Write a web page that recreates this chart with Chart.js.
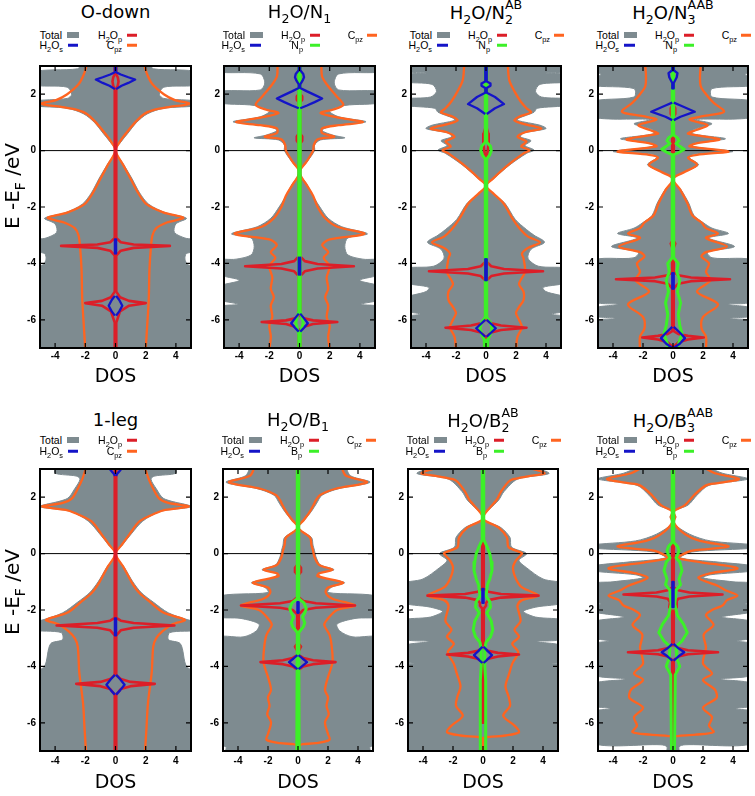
<!DOCTYPE html>
<html>
<head>
<meta charset="utf-8">
<script src="https://cdn.jsdelivr.net/npm/chart.js"></script>
<style>
  body { margin: 0; width: 755px; height: 796px; position: relative; overflow: hidden; background: #fff; }
  canvas { position: absolute; }
  .ttl { position: absolute; transform: translate(-50%, -50%); font: 18px "DejaVu Sans", sans-serif; white-space: nowrap; line-height: 22px; color: #000; }
  .lt { position: absolute; transform: translate(-100%, -50%); font: 10.5px "Liberation Sans", sans-serif; white-space: nowrap; line-height: 12px; color: #000; }
  .sw { position: absolute; transform: translateY(-50%); }
  .ylab { position: absolute; transform: translate(-50%, -50%) rotate(-90deg); font: 20px "DejaVu Sans", sans-serif; white-space: nowrap; line-height: 24px; }
  sub { font-size: 0.7em; vertical-align: -0.4em; line-height: 0; }
  .st { display: inline-block; font-size: 0.7em; line-height: 1.19; vertical-align: -0.4em; text-align: left; }
  .st span { display: block; }
</style>
</head>
<body>
<script>
// axes
const xTicks = [-4, -2, 0, 2, 4];
const yTicks = [-6, -4, -2, 0, 2];
const xMin = -5, xMax = 5, yMin = -7, yMax = 3;

// every series: [energy, half width of the DOS], mirrored round DOS = 0
// ---------- O-down ----------
const oDownTotal = [[3.05,2.3],[2.9,2.5],[2.78,5.5],[2.35,5.5],[2.25,3.2],[2.0,2.9],[1.85,3.2],[1.75,5.5],[1.6,5.5],[1.5,3.2],[1.3,2.1],[1.0,1.4],[0.6,0.8],[0.3,0.35],[0,0],[-0.5,0.55],[-1.0,1.1],[-1.5,1.6],[-1.9,2.2],[-2.2,3.3],[-2.4,4.7],[-2.6,4.0],[-2.9,3.9],[-3.1,4.6],[-3.2,5.5],[-3.55,5.5],[-3.65,4.7],[-3.85,4.6],[-4.05,4.8],[-4.15,5.5],[-7.05,5.5]];
const oDownCpz = [[3.05,1.9],[2.7,2.1],[2.35,2.45],[2.0,3.2],[1.8,3.9],[1.66,4.9],[1.55,3.6],[1.45,2.6],[1.3,1.9],[1.0,1.3],[0.6,0.68],[0.3,0.27],[0,0],[-0.5,0.5],[-1.0,1.0],[-1.5,1.5],[-1.9,2.05],[-2.2,3.2],[-2.38,4.5],[-2.55,3.4],[-2.75,2.7],[-3.0,2.45],[-3.4,2.35],[-4.2,2.25],[-5.3,2.2],[-6.2,2.1],[-7.05,2.0]];
const oDownH2Op = [[3.05,0.05],[2.7,0.05],[2.6,0.15],[2.45,0.2],[2.3,0.15],[2.2,0.05],[-3.1,0.05],[-3.25,0.35],[-3.33,1.2],[-3.38,3.6],[-3.45,1.2],[-3.55,0.35],[-3.72,0.05],[-5.0,0.05],[-5.2,0.3],[-5.33,0.9],[-5.41,2.0],[-5.5,0.9],[-5.7,0.3],[-6.1,0.05],[-7.05,0.05]];
const oDownH2Os = [[3.05,0.04],[2.78,0.04],[2.7,0.35],[2.6,0.85],[2.52,1.3],[2.4,0.85],[2.3,0.4],[2.18,0.04],[2.1,null],[-3.15,0.04],[-3.65,0.04],[-3.7,null],[-5.15,0.04],[-5.3,0.25],[-5.5,0.45],[-5.7,0.25],[-5.85,0.04]];

// ---------- H2O/N1 ----------
const n1Total = [[3.05,5.5],[2.8,5.5],[2.72,2.6],[2.4,2.3],[2.15,2.6],[2.08,5.5],[1.72,5.5],[1.6,3.0],[1.4,2.0],[1.2,2.6],[1.02,4.4],[0.88,2.2],[0.72,1.5],[0.55,2.2],[0.45,3.0],[0.38,1.4],[0.2,1.0],[0,1.0],[-0.4,0.5],[-0.77,0],[-1.2,0.5],[-1.7,1.0],[-2.0,1.35],[-2.4,1.9],[-2.7,2.8],[-2.95,4.5],[-3.1,3.2],[-3.4,3.0],[-3.7,3.2],[-3.85,4.2],[-3.9,5.5],[-4.35,5.5],[-4.6,4.0],[-4.85,5.5],[-5.25,5.5],[-5.45,4.1],[-5.6,5.5],[-7.05,5.5]];
const n1Cpz = [[3.05,1.45],[2.62,1.5],[2.28,1.9],[1.93,2.45],[1.62,2.9],[1.45,2.2],[1.33,1.4],[1.15,2.8],[1.01,4.2],[0.9,2.6],[0.79,1.5],[0.62,1.5],[0.49,2.3],[0.4,1.2],[0.2,0.95],[0,0.9],[-0.4,0.45],[-0.77,0],[-1.2,0.45],[-1.6,0.9],[-2.0,1.2],[-2.4,1.7],[-2.7,2.5],[-2.95,4.3],[-3.15,2.0],[-3.35,1.5],[-3.6,1.9],[-3.8,1.6],[-4.1,2.0],[-4.5,1.8],[-4.9,1.9],[-5.2,1.7],[-5.5,1.9],[-5.9,1.8],[-6.2,2.0],[-6.6,1.9],[-7.05,2.0]];
const n1H2Op = [[3.05,0.05],[2.0,0.05],[1.92,0.18],[1.8,0.18],[1.72,0.05],[0.6,0.05],[0.5,0.18],[0.35,0.18],[0.25,0.05],[-3.75,0.05],[-3.92,0.35],[-4.02,1.2],[-4.1,3.6],[-4.18,1.2],[-4.28,0.35],[-4.45,0.05],[-5.85,0.05],[-5.95,0.3],[-6.02,0.9],[-6.08,2.5],[-6.15,0.9],[-6.25,0.3],[-6.35,0.05],[-7.05,0.05]];
const n1H2Os = [[3.05,0.05],[2.85,0.05],[2.72,0.25],[2.6,0.3],[2.48,0.2],[2.35,0.05],[2.22,0.05],[2.1,0.5],[1.95,1.1],[1.85,1.5],[1.72,1.0],[1.6,0.5],[1.5,0.05],[1.45,null],[-3.8,0.05],[-4.4,0.05],[-4.45,null],[-5.78,0.05],[-5.95,0.3],[-6.12,0.55],[-6.28,0.3],[-6.42,0.05]];
const n1Np = [[3.05,0.05],[-5.7,0.05],[-5.9,0.15],[-6.1,0.25],[-6.3,0.15],[-6.5,0.05],[-7.05,0.05]];

// ---------- H2O/N2 AB ----------
const n2Total = [[3.05,5.5],[2.82,5.5],[2.75,4.0],[2.68,5.5],[2.45,5.5],[2.35,3.6],[2.1,3.3],[1.9,3.7],[1.82,5.5],[1.62,5.5],[1.5,3.4],[1.36,3.2],[1.15,2.2],[1.07,2.1],[0.9,3.6],[0.78,4.0],[0.62,2.5],[0.49,2.3],[0.35,3.0],[0.18,2.6],[0.02,3.2],[-0.1,2.7],[-0.5,1.6],[-1.0,0.5],[-1.25,0],[-1.5,0.4],[-1.86,1.25],[-2.44,1.95],[-2.8,2.7],[-3.0,3.2],[-3.25,3.9],[-3.5,3.0],[-3.82,2.8],[-4.1,3.5],[-4.2,5.5],[-4.65,5.5],[-4.85,3.8],[-5.0,4.0],[-5.25,5.5],[-5.65,5.5],[-5.8,4.4],[-5.95,5.5],[-7.05,5.5]];
const n2Cpz = [[3.05,1.45],[2.5,1.55],[2.1,1.9],[1.75,2.3],[1.5,2.7],[1.36,3.0],[1.2,2.2],[1.07,1.9],[0.92,2.7],[0.78,3.7],[0.65,2.6],[0.49,2.1],[0.32,2.7],[0.15,2.35],[0.01,2.9],[-0.1,2.5],[-0.5,1.5],[-1.0,0.45],[-1.25,0],[-1.5,0.45],[-1.86,1.15],[-2.44,1.8],[-2.8,2.3],[-3.05,2.8],[-3.25,3.6],[-3.45,2.8],[-3.65,2.4],[-3.82,2.5],[-4.3,2.6],[-4.73,2.2],[-5.0,2.5],[-5.3,2.5],[-5.55,2.2],[-5.76,2.0],[-6.0,2.2],[-6.27,2.4],[-6.6,2.1],[-7.05,2.0]];
const n2H2Op = [[3.05,0.05],[0.8,0.05],[0.6,0.15],[0.3,0.18],[0.0,0.12],[-0.2,0.05],[-3.95,0.05],[-4.1,0.35],[-4.2,1.2],[-4.28,3.8],[-4.36,1.2],[-4.45,0.35],[-4.6,0.05],[-6.0,0.05],[-6.12,0.35],[-6.2,1.0],[-6.28,2.7],[-6.36,1.0],[-6.45,0.35],[-6.6,0.05],[-7.05,0.05]];
const n2H2Os = [[3.05,0.05],[2.45,0.05],[2.38,0.3],[2.3,0.3],[2.22,0.05],[2.05,0.05],[1.9,0.6],[1.65,1.2],[1.5,0.6],[1.3,0.05],[1.25,null],[-3.85,0.05],[-4.6,0.05],[-4.65,null],[-6.0,0.05],[-6.15,0.35],[-6.3,0.65],[-6.45,0.35],[-6.6,0.05]];
const n2Np = [[3.05,0.05],[0.3,0.05],[0.15,0.3],[0.0,0.35],[-0.15,0.25],[-0.3,0.05],[-5.9,0.05],[-6.1,0.3],[-6.3,0.4],[-6.5,0.3],[-6.7,0.12],[-7.05,0.1]];

// ---------- H2O/N3 AAB ----------
const n3Total = [[3.05,5.5],[2.82,5.5],[2.7,4.8],[2.55,5.5],[2.32,5.5],[2.2,2.6],[1.9,2.6],[1.72,5.5],[1.2,5.5],[1.1,1.5],[0.95,2.6],[0.75,1.4],[0.6,1.3],[0.42,3.5],[0.28,1.5],[0.15,1.3],[-0.03,4.0],[-0.12,1.4],[-0.25,1.1],[-0.5,1.7],[-0.75,0.8],[-1.0,0],[-1.4,0.55],[-1.86,1.05],[-2.3,1.4],[-2.55,2.0],[-2.75,2.6],[-2.94,3.7],[-3.1,2.4],[-3.4,4.1],[-3.6,2.3],[-3.8,2.6],[-3.95,5.5],[-5.3,5.5],[-5.45,3.7],[-5.6,5.5],[-5.85,5.5],[-5.95,3.8],[-6.1,5.5],[-7.05,5.5]];
const n3Cpz = [[3.05,1.85],[2.6,1.8],[2.28,1.85],[2.0,2.2],[1.7,2.7],[1.38,3.4],[1.22,2.0],[1.1,1.1],[0.9,2.3],[0.72,1.5],[0.6,1.0],[0.4,3.1],[0.25,1.5],[0.15,1.1],[-0.03,3.7],[-0.15,1.6],[-0.25,1.0],[-0.5,1.6],[-0.75,0.8],[-1.0,0],[-1.4,0.5],[-1.86,0.95],[-2.3,1.3],[-2.55,1.9],[-2.75,2.2],[-2.94,3.0],[-3.1,2.2],[-3.4,3.6],[-3.6,2.2],[-3.75,1.9],[-4.0,2.4],[-4.3,2.2],[-4.6,2.5],[-5.0,1.6],[-5.45,3.0],[-5.9,2.0],[-6.3,1.9],[-6.6,2.2],[-7.05,2.2]];
const n3H2Op = [[3.05,0.05],[1.6,0.05],[1.5,0.15],[1.3,0.15],[1.2,0.05],[-3.2,0.05],[-3.3,0.15],[-3.45,0.05],[-4.3,0.05],[-4.42,0.35],[-4.5,1.2],[-4.56,3.8],[-4.63,1.2],[-4.72,0.35],[-4.88,0.05],[-6.4,0.05],[-6.5,0.35],[-6.57,1.0],[-6.63,2.05],[-6.7,1.0],[-6.8,0.35],[-6.95,0.05],[-7.05,0.05]];
const n3H2Os = [[3.05,0.05],[2.85,0.05],[2.75,0.3],[2.6,0.25],[2.4,0.05],[2.2,0.05],[2.1,null],[1.7,0.05],[1.6,0.5],[1.38,1.45],[1.2,0.5],[1.08,0.05],[1.0,null],[-4.35,0.05],[-4.9,0.05],[-4.95,null],[-6.25,0.05],[-6.45,0.45],[-6.65,0.8],[-6.85,0.45],[-7.0,0.05]];
const n3Np = [[3.05,0.05],[0.55,0.05],[0.45,0.3],[0.35,0.4],[0.25,0.2],[0.15,0.45],[0.05,0.75],[-0.05,0.45],[-0.15,0.05],[-3.8,0.05],[-4.0,0.35],[-4.3,0.25],[-4.6,0.45],[-5.0,0.3],[-5.4,0.5],[-5.8,0.35],[-6.2,0.45],[-6.5,0.6],[-6.8,0.4],[-7.05,0.3]];

// ---------- 1-leg ----------
const legTotal = [[3.05,4.0],[2.85,4.0],[2.75,2.6],[2.64,2.35],[2.3,2.7],[1.95,3.2],[1.67,5.0],[1.5,3.0],[1.15,1.8],[0.7,1.05],[0.3,0.45],[0,0],[-0.5,0.6],[-1.0,1.15],[-1.38,1.7],[-1.72,2.5],[-2.1,3.5],[-2.35,4.8],[-2.45,5.5],[-2.7,5.5],[-2.8,3.6],[-3.05,3.5],[-3.2,4.3],[-4.0,4.7],[-4.3,5.5],[-7.05,5.5]];
const legCpz = [[3.05,1.95],[2.64,2.2],[2.3,2.5],[1.95,2.9],[1.8,3.5],[1.67,4.85],[1.55,3.3],[1.44,2.7],[1.15,1.6],[0.69,0.93],[0.3,0.4],[0,0],[-0.5,0.55],[-1.0,1.05],[-1.38,1.55],[-1.72,2.3],[-2.1,3.2],[-2.35,4.6],[-2.5,3.8],[-2.76,3.1],[-3.0,2.7],[-3.3,2.5],[-4.2,2.4],[-5.3,2.15],[-6.2,2.05],[-7.05,1.95]];
const legH2Op = [[3.05,0.05],[-2.28,0.05],[-2.38,0.35],[-2.46,1.2],[-2.55,3.9],[-2.63,1.2],[-2.72,0.35],[-2.9,0.05],[-4.3,0.05],[-4.45,0.35],[-4.55,1.0],[-4.62,2.6],[-4.7,1.0],[-4.8,0.35],[-5.0,0.05],[-7.05,0.05]];
const legH2Os = [[3.05,0.45],[2.95,0.3],[2.82,0.1],[2.75,0.04],[2.7,null],[-2.3,0.04],[-2.9,0.04],[-2.95,null],[-4.3,0.04],[-4.45,0.3],[-4.65,0.6],[-4.85,0.3],[-5.0,0.04]];

// ---------- H2O/B1 ----------
const b1Total = [[3.05,3.2],[2.76,3.5],[2.53,4.8],[2.3,2.7],[2.07,1.6],[1.79,1.25],[1.5,0.9],[1.2,0.45],[0.92,0],[0.57,0.9],[0.3,1.0],[0.11,1.1],[-0.12,1.2],[-0.4,1.5],[-0.57,2.4],[-0.7,1.4],[-0.85,1.6],[-1.03,3.1],[-1.2,2.2],[-1.38,2.0],[-1.55,5.5],[-2.2,5.5],[-2.3,3.8],[-2.5,2.6],[-2.75,2.8],[-2.95,3.6],[-3.05,5.5],[-6.75,5.5],[-6.85,4.8],[-7.05,4.8]];
const b1Cpz = [[3.05,2.9],[2.76,3.2],[2.53,4.6],[2.3,2.5],[2.07,1.45],[1.85,1.15],[1.79,1.1],[1.5,0.8],[1.2,0.4],[0.92,0],[0.57,0.8],[0.3,0.9],[0.11,1.0],[-0.12,1.1],[-0.4,1.4],[-0.57,2.3],[-0.7,1.4],[-0.8,1.3],[-1.03,3.0],[-1.2,2.0],[-1.38,1.85],[-1.6,2.3],[-1.84,3.8],[-2.0,2.6],[-2.3,2.0],[-2.53,1.75],[-2.88,2.1],[-3.3,2.25],[-3.85,2.3],[-4.38,2.0],[-4.84,1.8],[-5.1,2.0],[-5.4,1.9],[-5.7,2.05],[-5.98,1.8],[-6.4,2.0],[-6.6,2.1],[-6.72,1.2],[-6.76,0.3],[-6.8,0.05],[-7.05,0.05]];
const b1H2Op = [[3.05,0.05],[-0.4,0.05],[-0.5,0.2],[-0.65,0.2],[-0.75,0.05],[-1.55,0.05],[-1.68,0.35],[-1.76,1.2],[-1.84,3.8],[-1.92,1.2],[-2.0,0.35],[-2.15,0.05],[-3.2,0.05],[-3.3,0.2],[-3.45,0.05],[-3.6,0.05],[-3.7,0.35],[-3.78,1.0],[-3.85,2.5],[-3.92,1.0],[-4.0,0.35],[-4.12,0.05],[-7.05,0.05]];
const b1H2Os = [[-1.72,0.04],[-2.1,0.04],[-2.15,null],[-3.6,0.04],[-3.72,0.3],[-3.85,0.6],[-3.98,0.3],[-4.1,0.04]];
const b1Bp = [[3.05,0.05],[-1.6,0.05],[-1.75,0.4],[-1.95,0.55],[-2.1,0.45],[-2.25,0.3],[-2.45,0.45],[-2.6,0.35],[-2.8,0.05],[-7.05,0.08]];

// ---------- H2O/B2 AB ----------
const b2Total = [[3.05,3.5],[2.84,4.4],[2.64,2.3],[2.2,1.4],[1.9,1.05],[1.26,0],[0.92,1.2],[0.57,1.8],[0.23,1.9],[0.0,2.9],[-0.24,2.4],[-0.5,2.9],[-0.9,4.0],[-1.1,5.5],[-1.7,5.5],[-1.9,3.5],[-2.05,2.7],[-2.25,3.5],[-2.4,5.5],[-3.0,5.5],[-3.12,3.6],[-3.3,5.5],[-3.8,5.5],[-3.9,4.6],[-4.0,5.5],[-7.05,5.5]];
const b2Cpz = [[3.05,3.0],[2.93,3.8],[2.84,4.1],[2.74,3.0],[2.64,2.0],[2.55,1.7],[2.2,1.2],[1.9,0.9],[1.26,0],[0.92,1.05],[0.57,1.6],[0.23,1.7],[0.05,2.5],[0.0,2.6],[-0.24,2.2],[-0.5,2.0],[-0.9,2.2],[-1.2,2.6],[-1.49,3.7],[-1.65,2.6],[-1.84,2.3],[-2.1,2.4],[-2.4,2.5],[-2.7,2.1],[-2.95,2.4],[-3.2,1.95],[-3.5,2.35],[-3.9,1.95],[-4.25,1.75],[-4.71,1.5],[-5.06,1.7],[-5.4,1.8],[-5.75,1.35],[-6.1,2.1],[-6.33,2.4],[-6.45,1.5],[-6.5,0.4],[-6.55,0.05],[-7.05,0.05]];
const b2H2Op = [[0.6,0.05],[-1.25,0.05],[-1.35,0.35],[-1.43,1.2],[-1.49,3.7],[-1.56,1.2],[-1.65,0.35],[-1.75,0.2],[-1.85,0.2],[-1.95,0.05],[-3.35,0.05],[-3.45,0.35],[-3.52,1.0],[-3.58,2.4],[-3.65,1.0],[-3.73,0.35],[-3.85,0.05],[-6.0,0.05]];
const b2H2Os = [[-1.25,0.04],[-1.75,0.04],[-1.8,null],[-3.3,0.04],[-3.45,0.3],[-3.6,0.6],[-3.75,0.3],[-3.88,0.04]];
const b2Bp = [[3.05,0.05],[0.5,0.05],[0.2,0.3],[0.0,0.45],[-0.3,0.55],[-0.6,0.6],[-0.9,0.45],[-1.1,0.3],[-1.5,0.2],[-1.7,0.45],[-1.9,0.5],[-2.1,0.25],[-2.4,0.55],[-2.7,0.65],[-2.95,0.5],[-3.15,0.2],[-3.4,0.12],[-4.0,0.12],[-4.5,0.18],[-7.05,0.18]];

// ---------- H2O/B3 AAB ----------
const b3Total = [[3.05,2.4],[2.85,3.3],[2.65,5.0],[2.42,2.4],[2.07,1.6],[1.72,1.0],[1.49,0],[1.3,0.2],[1.1,0],[0.69,1.1],[0.45,2.5],[0.3,5.5],[0.2,5.5],[0.06,1.3],[-0.15,0.5],[-0.3,3.0],[-0.45,5.5],[-0.6,5.5],[-0.75,2.5],[-0.86,2.0],[-1.0,4.0],[-1.1,5.5],[-1.7,5.5],[-1.78,4.8],[-1.9,5.5],[-2.05,5.5],[-2.25,3.3],[-2.45,5.5],[-2.95,5.5],[-3.1,4.3],[-3.25,5.5],[-4.25,5.5],[-4.45,3.2],[-4.65,5.5],[-5.35,5.5],[-5.5,4.2],[-5.65,5.5],[-6.7,5.5],[-6.78,0.8],[-6.85,0.4],[-7.05,0.4]];
const b3Cpz = [[3.05,2.1],[2.85,2.8],[2.65,4.4],[2.5,3.0],[2.42,2.2],[2.07,1.4],[1.72,0.8],[1.49,0.05],[1.3,0.15],[1.1,0.05],[0.69,0.8],[0.45,1.8],[0.25,3.7],[0.12,1.5],[0.06,1.0],[-0.15,0.35],[-0.3,1.8],[-0.52,4.3],[-0.7,2.5],[-0.86,1.7],[-1.15,3.0],[-1.3,3.5],[-1.49,4.3],[-1.65,3.6],[-1.84,3.3],[-2.0,2.6],[-2.18,2.2],[-2.53,2.7],[-2.87,2.05],[-3.33,2.2],[-3.9,2.0],[-4.25,2.6],[-4.48,2.0],[-4.83,2.8],[-5.12,2.9],[-5.46,2.0],[-5.8,2.6],[-6.1,2.4],[-6.33,2.7],[-6.42,1.5],[-6.47,0.3],[-6.5,0.05],[-7.05,0.05]];
const b3H2Op = [[3.05,0.05],[-1.2,0.05],[-1.3,0.35],[-1.38,1.1],[-1.45,3.3],[-1.52,1.1],[-1.6,0.35],[-1.72,0.2],[-1.9,0.25],[-2.05,0.05],[-3.25,0.05],[-3.35,0.35],[-3.43,1.0],[-3.5,3.0],[-3.57,1.0],[-3.65,0.35],[-3.77,0.05],[-7.05,0.05]];
const b3H2Os = [[-1.0,0.04],[-1.9,0.04],[-1.95,null],[-3.2,0.04],[-3.35,0.35],[-3.5,0.75],[-3.65,0.35],[-3.8,0.04]];
const b3Bp = [[3.05,0.05],[0.4,0.05],[0.25,0.3],[0.1,0.4],[-0.05,0.3],[-0.15,0.2],[-0.3,0.45],[-0.6,0.6],[-0.9,0.4],[-1.1,0.5],[-1.3,0.2],[-1.8,0.12],[-2.2,0.3],[-2.5,0.7],[-2.8,0.95],[-3.1,0.6],[-3.3,0.2],[-3.7,0.25],[-4.0,0.45],[-4.3,0.15],[-7.05,0.1]];

const colTotal = '#7e8b90';
const colCpz = '#ff6420';
const colH2Op = '#dc1e28';
const colH2Os = '#1414c8';
const colThird = '#3cf028';

const rows = [
  {T: 60, B: 348, axisH: 40, tickPad: 2, titleY: 12, legY: [35, 45], ylabY: 186},
  {T: 463, B: 751, axisH: 43, tickPad: 4, titleY: 420, legY: [440, 451], ylabY: 592}
];

const panels = [
  {row: 0, L: 40, R: 191, title: 'O-down', total: oDownTotal, cpz: oDownCpz, h2op: oDownH2Op, h2os: oDownH2Os, third: null},
  {row: 0, L: 224, R: 375, title: 'H<sub>2</sub>O/N<sub>1</sub>', total: n1Total, cpz: n1Cpz, h2op: n1H2Op, h2os: n1H2Os, third: n1Np, thirdName: 'N<sub>p</sub>'},
  {row: 0, L: 411, R: 561, title: 'H<sub>2</sub>O/N<span class="st"><span>AB</span><span>2</span></span>', total: n2Total, cpz: n2Cpz, h2op: n2H2Op, h2os: n2H2Os, third: n2Np, thirdName: 'N<sub>p</sub>'},
  {row: 0, L: 598, R: 748, title: 'H<sub>2</sub>O/N<span class="st"><span>AAB</span><span>3</span></span>', total: n3Total, cpz: n3Cpz, h2op: n3H2Op, h2os: n3H2Os, third: n3Np, thirdName: 'N<sub>p</sub>'},
  {row: 1, L: 40, R: 191, title: '1-leg', total: legTotal, cpz: legCpz, h2op: legH2Op, h2os: legH2Os, third: null},
  {row: 1, L: 223, R: 373, title: 'H<sub>2</sub>O/B<sub>1</sub>', total: b1Total, cpz: b1Cpz, h2op: b1H2Op, h2os: b1H2Os, third: b1Bp, thirdName: 'B<sub>p</sub>'},
  {row: 1, L: 408, R: 558, title: 'H<sub>2</sub>O/B<span class="st"><span>AB</span><span>2</span></span>', total: b2Total, cpz: b2Cpz, h2op: b2H2Op, h2os: b2H2Os, third: b2Bp, thirdName: 'B<sub>p</sub>'},
  {row: 1, L: 598, R: 748, title: 'H<sub>2</sub>O/B<span class="st"><span>AAB</span><span>3</span></span>', total: b3Total, cpz: b3Cpz, h2op: b3H2Op, h2os: b3H2Os, third: b3Bp, thirdName: 'B<sub>p</sub>'}
];

Chart.defaults.font.family = '"Liberation Sans", sans-serif';
Chart.defaults.color = '#000';

// right and left halves of a DOS curve
function sides(arr) {
  const right = arr.map(p => ({x: p[1], y: p[0]}));
  const left = arr.map(p => ({x: p[1] === null ? null : -p[1], y: p[0]}));
  return [right, left];
}

function curve(arr, color, width, tension) {
  return sides(arr).map(pts => ({
    data: pts, showLine: true, borderColor: color, borderWidth: width,
    borderJoinStyle: 'round', pointRadius: 0, tension: tension, fill: false
  }));
}

function shape(arr, color) {
  const [right, left] = sides(arr);
  return {
    data: right.concat(left.reverse()), showLine: true, borderColor: color, borderWidth: 1,
    backgroundColor: color, pointRadius: 0, tension: 0.3, fill: 'shape'
  };
}

// frame with gnuplot style inner ticks on all four sides
const framePlugin = {
  id: 'frame',
  afterDatasetsDraw(chart) {
    const {ctx, chartArea: a} = chart;
    const x = chart.scales.x, y = chart.scales.y;
    ctx.save();
    ctx.strokeStyle = '#000';
    ctx.lineWidth = 1.2;
    ctx.beginPath();
    xTicks.forEach(v => {
      const px = x.getPixelForValue(v);
      ctx.moveTo(px, a.bottom); ctx.lineTo(px, a.bottom - 5);
      ctx.moveTo(px, a.top); ctx.lineTo(px, a.top + 5);
    });
    yTicks.forEach(v => {
      const py = y.getPixelForValue(v);
      ctx.moveTo(a.left, py); ctx.lineTo(a.left + 5, py);
      ctx.moveTo(a.right, py); ctx.lineTo(a.right - 5, py);
    });
    ctx.stroke();
    ctx.lineWidth = 2;
    ctx.strokeRect(a.left, a.top, a.right - a.left, a.bottom - a.top);
    ctx.restore();
  }
};

function addDiv(html, cls, x, y) {
  const d = document.createElement('div');
  d.className = cls;
  d.innerHTML = html;
  d.style.left = x + 'px';
  d.style.top = y + 'px';
  document.body.appendChild(d);
  return d;
}

function swatch(x, y, w, h, color) {
  const d = addDiv('', 'sw', x, y);
  d.style.width = w + 'px';
  d.style.height = h + 'px';
  d.style.background = color;
}

function drawPanel(p) {
  const r = rows[p.row];
  const padTop = 4, padRight = 4, yAxisW = 30;
  const cv = document.createElement('canvas');
  cv.width = (p.R - p.L) + yAxisW + padRight;
  cv.height = (r.B - r.T) + padTop + r.axisH;
  cv.style.left = (p.L - yAxisW) + 'px';
  cv.style.top = (r.T - padTop) + 'px';
  document.body.appendChild(cv);

  const datasets = [];
  if (p.h2os) datasets.push(...curve(p.h2os, colH2Os, 2.3, 0));
  if (p.third) datasets.push(...curve(p.third, colThird, 3, 0));
  datasets.push(...curve(p.h2op, colH2Op, 2.6, 0));
  datasets.push(...curve(p.cpz, colCpz, 2.3, 0.3));
  datasets.push({data: [{x: xMin, y: 0}, {x: xMax, y: 0}], showLine: true, borderColor: '#000', borderWidth: 1, pointRadius: 0});
  datasets.push(shape(p.total, colTotal));

  new Chart(cv, {
    type: 'scatter',
    data: {datasets: datasets},
    options: {
      responsive: false,
      animation: false,
      events: [],
      layout: {padding: {left: 0, top: padTop, right: padRight, bottom: 0}, autoPadding: false},
      plugins: {legend: {display: false}, tooltip: {enabled: false}},
      scales: {
        x: {
          type: 'linear', min: xMin, max: xMax,
          afterBuildTicks: s => { s.ticks = xTicks.map(v => ({value: v})); },
          afterFit: s => { s.height = r.axisH; },
          grid: {display: false, drawTicks: false},
          border: {display: false},
          ticks: {padding: r.tickPad, font: {size: 10, weight: 'bold'}, color: '#000'},
          title: {display: true, text: 'DOS', font: {size: 19, family: '"DejaVu Sans", sans-serif'}, color: '#000', padding: 0}
        },
        y: {
          type: 'linear', min: yMin, max: yMax,
          afterBuildTicks: s => { s.ticks = yTicks.map(v => ({value: v})); },
          afterFit: s => { s.width = yAxisW; },
          grid: {display: false, drawTicks: false},
          border: {display: false},
          ticks: {padding: 4, font: {size: 10, weight: 'bold'}, color: '#000'}
        }
      }
    },
    plugins: [framePlugin]
  });

  // title and key, as text
  addDiv(p.title, 'ttl', (p.L + p.R) / 2, r.titleY);
  const y1 = r.legY[0], y2 = r.legY[1];
  const L = p.L;
  if (p.third) {
    addDiv('Total', 'lt', L + 21, y1); swatch(L + 26, y1, 13, 6, colTotal);
    addDiv('H<sub>2</sub>O<sub>s</sub>', 'lt', L + 21, y2); swatch(L + 26, y2, 11, 2.5, colH2Os);
    addDiv('H<sub>2</sub>O<sub>p</sub>', 'lt', L + 81, y1); swatch(L + 86, y1, 10, 2.5, colH2Op);
    addDiv(p.thirdName, 'lt', L + 79, y2); swatch(L + 86, y2, 10, 2.5, colThird);
    addDiv('C<sub>pz</sub>', 'lt', L + 139, y1); swatch(L + 143, y1, 10, 2.5, colCpz);
  } else {
    addDiv('Total', 'lt', L + 22, y1); swatch(L + 27, y1, 12, 6, colTotal);
    addDiv('H<sub>2</sub>O<sub>s</sub>', 'lt', L + 23, y2); swatch(L + 28, y2, 10, 2.5, colH2Os);
    addDiv('H<sub>2</sub>O<sub>p</sub>', 'lt', L + 82, y1); swatch(L + 87, y1, 10, 2.5, colH2Op);
    addDiv('C<sub>pz</sub>', 'lt', L + 82, y2); swatch(L + 87, y2, 10, 2.5, colCpz);
  }
}

panels.forEach(drawPanel);

rows.forEach(r => addDiv('E -E<sub>F</sub> /eV', 'ylab', 12, r.ylabY));
</script>
</body>
</html>
